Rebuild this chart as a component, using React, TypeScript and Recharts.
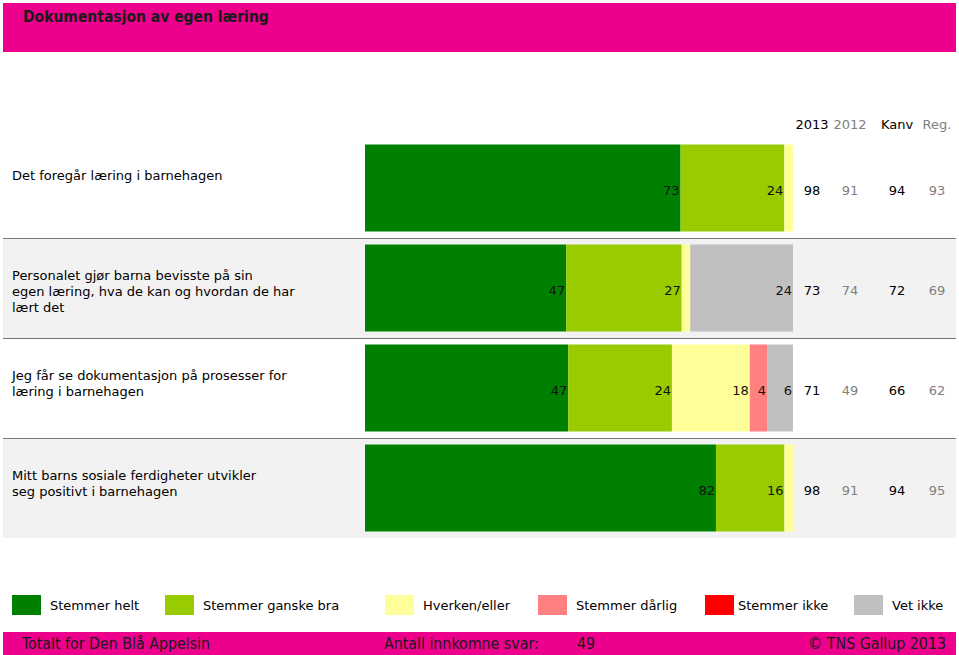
import React from 'react';
import { BarChart, Bar, XAxis, YAxis, LabelList } from 'recharts';

// Spørsmål (linjeskift som i originalen)
const questions = [
  'Det foregår læring i barnehagen',
  'Personalet gjør barna bevisste på sin\negen læring, hva de kan og hvordan de har\nlært det',
  'Jeg får se dokumentasjon på prosesser for\nlæring i barnehagen',
  'Mitt barns sosiale ferdigheter utvikler\nseg positivt i barnehagen',
];

// Svarfordeling i prosent
const stemmerHelt = [73, 47, 47, 82];
const stemmerGanskeBra = [24, 27, 24, 16];
const hverkenEller = [2, 2, 18, 2];
const stemmerDarlig = [0, 0, 4, 0];
const stemmerIkke = [0, 0, 0, 0];
const vetIkke = [0, 24, 6, 0];

// Sammenligningskolonner
const columnHeaders = ['2013', '2012', 'Kanv', 'Reg.'];
const score2013 = [98, 73, 71, 98];
const score2012 = [91, 74, 49, 91];
const scoreKanv = [94, 72, 66, 94];
const scoreReg = [93, 69, 62, 95];

const series = [
  { key: 'helt', name: 'Stemmer helt', color: '#008000', values: stemmerHelt },
  { key: 'ganske', name: 'Stemmer ganske bra', color: '#99CC00', values: stemmerGanskeBra },
  { key: 'hverken', name: 'Hverken/eller', color: '#FFFF99', values: hverkenEller },
  { key: 'darlig', name: 'Stemmer dårlig', color: '#FF8080', values: stemmerDarlig },
  { key: 'ikke', name: 'Stemmer ikke', color: '#FF0000', values: stemmerIkke },
  { key: 'vetikke', name: 'Vet ikke', color: '#C0C0C0', values: vetIkke },
];

const scoreColumns = [score2013, score2012, scoreKanv, scoreReg];

const rows = questions.map((q, i) => {
  const row: Record<string, any> = { q };
  series.forEach((s) => (row[s.key] = s.values[i]));
  return row;
});

const FONT = '"DejaVu Sans", Verdana, sans-serif';
const CONDENSED = '"DejaVu Sans Condensed", "DejaVu Sans", sans-serif';
const PINK = '#EC008C';

// layout
const CHART_TOP = 138;
const CHART_HEIGHT = 400;
const BAND = CHART_HEIGHT / questions.length;
const COL_CENTERS = [812, 850, 897, 937];
const colColors = ['#000', '#808080', '#000', '#808080'];

const QuestionTick = ({ y, payload }: any) => {
  const lines = String(payload.value).split('\n');
  return (
    <text x={12} y={y - 8} fontSize={13} fontFamily={FONT} fill="#000">
      {lines.map((l, i) => (
        <tspan key={i} x={12} dy={i === 0 ? 0 : 16}>
          {l}
        </tspan>
      ))}
    </text>
  );
};

const ScoreTick = ({ y, payload }: any) => {
  const idx = questions.indexOf(payload.value);
  return (
    <g>
      {scoreColumns.map((col, c) => (
        <text
          key={c}
          x={COL_CENTERS[c]}
          y={y + 7}
          textAnchor="middle"
          fontSize={13}
          fontFamily={FONT}
          fill={colColors[c]}
        >
          {col[idx]}
        </text>
      ))}
    </g>
  );
};

const SegmentLabel = (props: any) => {
  const { x, y, width, height, value } = props;
  if (!value || value < 3) return null;
  return (
    <text
      x={x + width - 1}
      y={y + height / 2 + 7}
      textAnchor="end"
      fontSize={13}
      fontFamily={FONT}
      fill="#111"
    >
      {value}
    </text>
  );
};

const legendLefts = [12, 165, 385, 538, 705, 854];

export default function App() {
  return (
    <div
      style={{
        position: 'absolute',
        left: 0,
        top: 0,
        width: 959,
        height: 655,
        background: '#fff',
        overflow: 'hidden',
        fontFamily: FONT,
      }}
    >
      {/* tittel */}
      <div
        style={{
          position: 'absolute',
          left: 3,
          top: 3,
          width: 953,
          height: 49,
          background: PINK,
        }}
      >
        <div
          style={{
            position: 'absolute',
            left: 20,
            top: 5,
            fontFamily: CONDENSED,
            fontWeight: 'bold',
            fontSize: 15.5,
            color: '#1a1a1a',
          }}
        >
          Dokumentasjon av egen læring
        </div>
      </div>

      {/* kolonneoverskrifter */}
      {columnHeaders.map((h, c) => (
        <div
          key={h}
          style={{
            position: 'absolute',
            left: COL_CENTERS[c],
            top: 117,
            transform: 'translateX(-50%)',
            fontSize: 13,
            color: colColors[c],
            whiteSpace: 'nowrap',
          }}
        >
          {h}
        </div>
      ))}

      {/* radbakgrunner */}
      {questions.map((q, i) => (
        <div
          key={q}
          style={{
            position: 'absolute',
            left: 3,
            width: 953,
            top: CHART_TOP + i * BAND,
            height: BAND,
            background: i % 2 === 1 ? '#F2F2F2' : 'transparent',
            borderTop: i > 0 ? '1px solid #777' : 'none',
            boxSizing: 'border-box',
          }}
        />
      ))}

      <div style={{ position: 'absolute', left: 0, top: CHART_TOP }}>
        <BarChart
          width={959}
          height={CHART_HEIGHT}
          data={rows}
          layout="vertical"
          stackOffset="expand"
          barCategoryGap="6.5%"
          margin={{ top: 0, right: 0, bottom: 0, left: 0 }}
        >
          <XAxis type="number" hide domain={[0, 1]} />
          <YAxis
            yAxisId="left"
            type="category"
            dataKey="q"
            width={365}
            axisLine={false}
            tickLine={false}
            tick={<QuestionTick />}
          />
          <YAxis
            yAxisId="right"
            orientation="right"
            type="category"
            dataKey="q"
            width={166}
            axisLine={false}
            tickLine={false}
            tick={<ScoreTick />}
          />
          {series.map((s) => (
            <Bar
              key={s.key}
              yAxisId="left"
              dataKey={s.key}
              name={s.name}
              stackId="a"
              fill={s.color}
              isAnimationActive={false}
            >
              <LabelList dataKey={s.key} content={<SegmentLabel />} />
            </Bar>
          ))}
        </BarChart>
      </div>

      {/* forklaring */}
      {series.map((s, i) => (
        <div
          key={s.key}
          style={{
            position: 'absolute',
            left: legendLefts[i],
            top: 595,
            display: 'flex',
            alignItems: 'center',
            height: 20,
            fontSize: 13,
            whiteSpace: 'nowrap',
          }}
        >
          <span
            style={{
              display: 'inline-block',
              width: 29,
              height: 20,
              background: s.color,
              marginRight: s.key === 'ikke' ? 4 : 9,
            }}
          />
          <span>{s.name}</span>
        </div>
      ))}

      {/* bunntekst */}
      <div
        style={{
          position: 'absolute',
          left: 3,
          top: 632,
          width: 953,
          height: 23,
          background: PINK,
          fontFamily: CONDENSED,
          fontSize: 15.8,
          color: '#1a1a1a',
          whiteSpace: 'nowrap',
        }}
      >
        <span style={{ position: 'absolute', left: 19, top: 2 }}>Totalt for Den Blå Appelsin</span>
        <span style={{ position: 'absolute', left: 381, top: 2 }}>Antall innkomne svar:</span>
        <span style={{ position: 'absolute', left: 574, top: 2 }}>49</span>
        <span style={{ position: 'absolute', right: 10, top: 2 }}>© TNS Gallup 2013</span>
      </div>
    </div>
  );
}
